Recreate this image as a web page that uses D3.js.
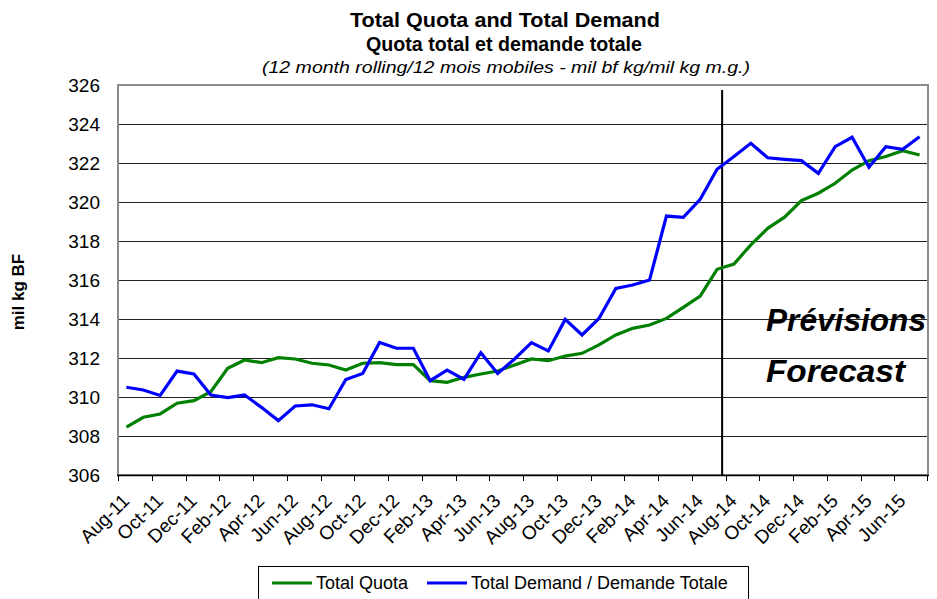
<!DOCTYPE html>
<html><head><meta charset="utf-8">
<script src="https://cdn.jsdelivr.net/npm/d3@7"></script>
<style>
html,body{margin:0;padding:0;background:#fff;}
svg{display:block;}
text{font-family:"Liberation Sans",Arial,sans-serif;fill:#000;}
</style></head>
<body>
<svg id="chart" width="937" height="599"></svg>
<script>
const months = ["Aug-11","Sep-11","Oct-11","Nov-11","Dec-11","Jan-12","Feb-12","Mar-12","Apr-12","May-12","Jun-12","Jul-12",
"Aug-12","Sep-12","Oct-12","Nov-12","Dec-12","Jan-13","Feb-13","Mar-13","Apr-13","May-13","Jun-13","Jul-13",
"Aug-13","Sep-13","Oct-13","Nov-13","Dec-13","Jan-14","Feb-14","Mar-14","Apr-14","May-14","Jun-14","Jul-14",
"Aug-14","Sep-14","Oct-14","Nov-14","Dec-14","Jan-15","Feb-15","Mar-15","Apr-15","May-15","Jun-15","Jul-15"];
const totalQuota = [308.45,308.96,309.13,309.68,309.81,310.27,311.47,311.90,311.76,312.02,311.95,311.73,
311.64,311.38,311.73,311.76,311.66,311.66,310.84,310.75,311.01,311.18,311.33,311.64,
311.95,311.86,312.10,312.24,312.67,313.18,313.52,313.69,314.03,314.60,315.18,316.55,
316.82,317.80,318.65,319.22,320.07,320.45,320.96,321.64,322.12,322.33,322.63,322.41];
const totalDemand = [310.50,310.36,310.08,311.33,311.18,310.10,309.97,310.10,309.47,308.79,309.54,309.60,
309.40,310.90,311.21,312.80,312.50,312.50,310.84,311.38,310.90,312.27,311.21,311.95,
312.79,312.36,313.98,313.18,314.03,315.57,315.74,316.00,319.28,319.21,320.14,321.68,
322.33,323.01,322.27,322.19,322.12,321.47,322.84,323.32,321.78,322.84,322.70,323.35];
const yTicks = [306,308,310,312,314,316,318,320,322,324,326];
const seriesNames = ["Total Quota","Total Demand / Demande Totale"];
const seriesColors = ["#008000","#0000FF"];
const forecastAfter = "Jul-14";
const titleLines = ["Total Quota and Total Demand","Quota total et demande totale"];
const subtitle = "(12 month rolling/12 mois mobiles - mil bf kg/mil kg m.g.)";
const yTitle = "mil kg BF";
const forecastLabels = ["Prévisions","Forecast"];

const svg = d3.select("#chart");
const L=118, R=928, T=85, B=475;
const x = d3.scaleBand().domain(months).range([L,R]).padding(0);
const bw = x.bandwidth();
const cx = m => x(m)+bw/2;
const y = d3.scaleLinear().domain([306,326]).range([B,T]);

// titles
svg.append("text").attr("x",505).attr("y",27).attr("text-anchor","middle")
  .attr("font-size",21).attr("font-weight","bold").attr("textLength",310).attr("lengthAdjust","spacingAndGlyphs").text(titleLines[0]);
svg.append("text").attr("x",504).attr("y",51).attr("text-anchor","middle")
  .attr("font-size",21).attr("font-weight","bold").attr("textLength",276).attr("lengthAdjust","spacingAndGlyphs").text(titleLines[1]);
svg.append("text").attr("x",506).attr("y",73).attr("text-anchor","middle")
  .attr("font-size",17).attr("font-style","italic").attr("textLength",488).attr("lengthAdjust","spacingAndGlyphs").text(subtitle);

// gridlines
svg.append("g").selectAll("line").data(yTicks.slice(1,-1)).join("line")
  .attr("x1",L).attr("x2",R).attr("y1",d=>Math.round(y(d))+0.5).attr("y2",d=>Math.round(y(d))+0.5)
  .attr("stroke","#222").attr("stroke-width",1);
// frame
svg.append("rect").attr("x",L).attr("y",T).attr("width",R-L).attr("height",B-T)
  .attr("fill","none").attr("stroke","#8c8c8c").attr("stroke-width",2);
svg.append("line").attr("x1",L-1).attr("x2",R+1).attr("y1",B+0.5).attr("y2",B+0.5).attr("stroke","#000").attr("stroke-width",1.5);

// y labels
svg.append("g").selectAll("text").data(yTicks).join("text")
  .attr("x",100).attr("y",d=>y(d)).attr("dy","0.36em").attr("text-anchor","end")
  .attr("font-size",19).text(d=>d);
svg.append("text").attr("transform","translate(24,292) rotate(-90)").attr("text-anchor","middle")
  .attr("font-size",17).attr("font-weight","bold").text(yTitle);

// x ticks
const tickMonths = months.filter((m,i)=>i%2===0);
svg.append("g").selectAll("line").data(tickMonths).join("line")
  .attr("x1",d=>Math.round(x(d))+0.5).attr("x2",d=>Math.round(x(d))+0.5).attr("y1",B).attr("y2",B+6)
  .attr("stroke","#000").attr("stroke-width",1);
svg.append("line").attr("x1",R-0.5).attr("x2",R-0.5).attr("y1",B).attr("y2",B+6).attr("stroke","#000");
svg.append("g").selectAll("text").data(tickMonths).join("text")
  .attr("transform",d=>`translate(${cx(d)+4},${B+27}) rotate(-45)`)
  .attr("text-anchor","end").attr("font-size",19).text(d=>d);

// forecast divider
const fx = x(forecastAfter)+bw*0.8;
svg.append("line").attr("x1",fx).attr("x2",fx).attr("y1",T+5).attr("y2",B).attr("stroke","#000").attr("stroke-width",2);
svg.append("text").attr("x",766).attr("y",331).attr("font-family","Lato, 'Open Sans', sans-serif")
  .attr("font-size",32).attr("font-weight","bold").attr("font-style","italic")
  .attr("textLength",160).attr("lengthAdjust","spacingAndGlyphs").text(forecastLabels[0]);
svg.append("text").attr("x",766).attr("y",382).attr("font-family","Lato, 'Open Sans', sans-serif")
  .attr("font-size",32).attr("font-weight","bold").attr("font-style","italic")
  .attr("textLength",139).attr("lengthAdjust","spacingAndGlyphs").text(forecastLabels[1]);

// lines
const line = d3.line().x((d,i)=>cx(months[i])).y(d=>y(d));
[totalQuota,totalDemand].forEach((s,k)=>{
  svg.append("path").datum(s).attr("d",line).attr("fill","none")
    .attr("stroke",seriesColors[k]).attr("stroke-width",3.2).attr("stroke-linejoin","miter");
});

// legend
const lg = svg.append("g");
lg.append("rect").attr("x",258.5).attr("y",566.5).attr("width",490).attr("height",40)
  .attr("fill","#fff").attr("stroke","#000").attr("stroke-width",1);
const legX = [272,427];
seriesNames.forEach((n,k)=>{
  lg.append("line").attr("x1",legX[k]).attr("x2",legX[k]+40).attr("y1",583).attr("y2",583)
    .attr("stroke",seriesColors[k]).attr("stroke-width",3.2);
  lg.append("text").attr("x",legX[k]+44).attr("y",589).attr("font-size",18).text(n);
});
</script>
</body></html>
